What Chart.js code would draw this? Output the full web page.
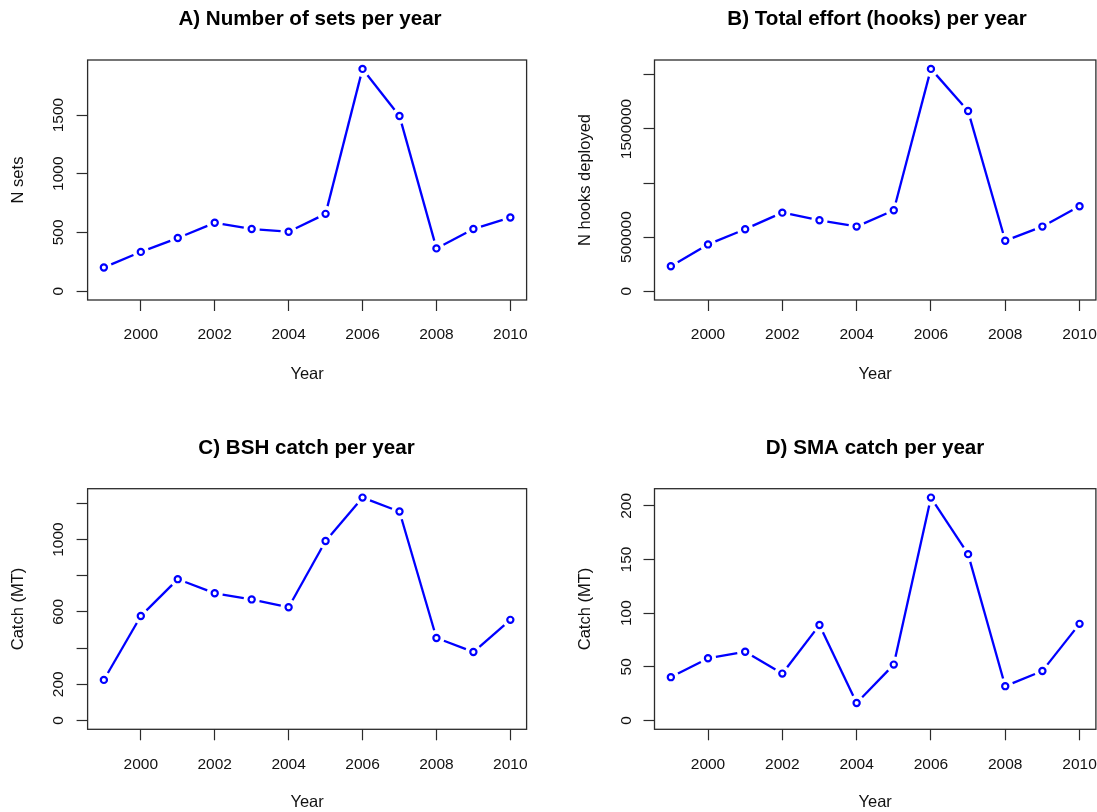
<!DOCTYPE html>
<html>
<head>
<meta charset="utf-8">
<script src="https://cdn.jsdelivr.net/npm/chart.js@4/dist/chart.umd.min.js"></script>
<style>
  html, body { margin: 0; padding: 0; background: #ffffff; overflow: hidden; width: 1097px; height: 812px; }
  #wrap { position: relative; width: 1097px; height: 812px; overflow: hidden; }
  #wrap canvas { position: absolute; }
</style>
</head>
<body>
<div id="wrap"></div>
<script>
// ---- data ----
const years = [1999, 2000, 2001, 2002, 2003, 2004, 2005, 2006, 2007, 2008, 2009, 2010];
const nSets = [201, 334, 452, 582, 529, 506, 658, 1893, 1492, 364, 529, 627];
const nHooks = [230000, 432000, 573000, 726000, 656000, 597000, 748000, 2056000, 1667000, 466000, 597000, 785000];
const bshCatch = [224, 577, 781, 703, 669, 626, 992, 1232, 1155, 456, 378, 556];
const smaCatch = [40.3, 57.9, 64.0, 43.6, 88.9, 16.2, 52.0, 207.7, 155.0, 31.9, 46.1, 90.0];

// ---- tick labels ----
const yearTicks = [2000, 2002, 2004, 2006, 2008, 2010];
const setsTicks = [0, 500, 1000, 1500];
const setsTickLabels = [0, 500, 1000, 1500];
const hooksTicks = [0, 500000, 1000000, 1500000, 2000000];
const hooksTickLabels = [0, 500000, 1500000];
const bshTicks = [0, 200, 400, 600, 800, 1000, 1200];
const bshTickLabels = [0, 200, 600, 1000];
const smaTicks = [0, 50, 100, 150, 200];
const smaTickLabels = [0, 50, 100, 150, 200];

// ---- styling ----
const FONT = '"Liberation Sans", Arial, Helvetica, sans-serif';
const TICK_PX = 15.5, LAB_PX = 16.5, MAIN_PX = 20.6;
const TICK_LEN = 11;
const BLUE = '#0000ff';
const PAPER = '#ffffff';
const NONE = 'rgba(0,0,0,0)';
const INK = '#111111';
const AXIS = '#2b2b2b';
const POINT_GAP = 8;   // px left open at both ends of every segment

// page-pixel placement of each panel (title is centred on its canvas)
const panels = [
  { title: 'A) Number of sets per year', yTitle: 'N sets', values: nSets, yTicks: setsTicks, yLabels: setsTickLabels,
    frame: { canvasLeft: 0, canvasTop: 0, titleX: 310, canvasH: 420,
             boxL: 87.6, boxT: 60, boxR: 526.6, boxB: 300,
             titleY: 19.7, yTitleX: 18.7, yTickX: 59, xTickY: 335, xTitleY: 374.2 } },
  { title: 'B) Total effort (hooks) per year', yTitle: 'N hooks deployed', values: nHooks, yTicks: hooksTicks, yLabels: hooksTickLabels,
    frame: { canvasLeft: 574, canvasTop: 0, titleX: 877, canvasH: 420,
             boxL: 654.5, boxT: 60, boxR: 1095.9, boxB: 300,
             titleY: 19.7, yTitleX: 585.8, yTickX: 627, xTickY: 335, xTitleY: 374.2 } },
  { title: 'C) BSH catch per year', yTitle: 'Catch (MT)', values: bshCatch, yTicks: bshTicks, yLabels: bshTickLabels,
    frame: { canvasLeft: 0, canvasTop: 406, titleX: 306.5, canvasH: 420,
             boxL: 87.6, boxT: 488.7, boxR: 526.6, boxB: 729.3,
             titleY: 448.8, yTitleX: 18.9, yTickX: 59, xTickY: 764.5, xTitleY: 802.5 } },
  { title: 'D) SMA catch per year', yTitle: 'Catch (MT)', values: smaCatch, yTicks: smaTicks, yLabels: smaTickLabels,
    frame: { canvasLeft: 574, canvasTop: 406, titleX: 875, canvasH: 420,
             boxL: 654.5, boxT: 488.7, boxR: 1095.9, boxB: 729.3,
             titleY: 448.8, yTitleX: 585.8, yTickX: 627, xTickY: 764.5, xTitleY: 802.5 } }
];

const measureCtx = document.createElement('canvas').getContext('2d');
function textWidth(s, px) {
  measureCtx.font = px + 'px ' + FONT;
  return measureCtx.measureText(s).width;
}

// pixel length of one segment of the line
function segLength(ctx) {
  return Math.hypot(ctx.p1.x - ctx.p0.x, ctx.p1.y - ctx.p0.y);
}

// closed frame around the plotting region
const frameBox = {
  id: 'frameBox',
  afterDraw(chart) {
    const { ctx, chartArea: a } = chart;
    ctx.save();
    ctx.strokeStyle = AXIS;
    ctx.lineWidth = 1.3;
    ctx.strokeRect(a.left, a.top, a.right - a.left, a.bottom - a.top);
    ctx.restore();
  }
};

const wrap = document.getElementById('wrap');

function buildPanel(p) {
  const f = p.frame;
  const canvasW = Math.round(2 * (f.titleX - f.canvasLeft));
  const cv = document.createElement('canvas');
  cv.width = canvasW; cv.height = f.canvasH;
  cv.style.left = f.canvasLeft + 'px';
  cv.style.top = f.canvasTop + 'px';
  cv.style.width = canvasW + 'px';
  cv.style.height = f.canvasH + 'px';
  wrap.appendChild(cv);

  const mainLH = MAIN_PX * 1.2, labLH = LAB_PX * 1.2, tickLH = TICK_PX * 1.2;
  const titleTop = f.titleY - f.canvasTop - mainLH / 2;
  const titleBottom = f.boxT - f.canvasTop - titleTop - mainLH;
  const yAxisW = f.boxL - f.canvasLeft;
  const xAxisH = f.canvasTop + f.canvasH - f.boxB;
  const rightW = f.canvasLeft + canvasW - f.boxR;
  const widest = Math.max(...p.yLabels.map(v => textWidth(String(v), TICK_PX)));
  const yTickPad = f.boxL - f.yTickX - TICK_LEN - widest / 2;
  const xTickPad = f.xTickY - f.boxB - TICK_LEN - tickLH / 2;
  const yTitlePad = f.yTitleX - f.canvasLeft - labLH / 2;
  const xTitlePad = f.canvasTop + f.canvasH - f.xTitleY - labLH / 2;

  // axis limits: zero to the series maximum, widened by 4% on each side
  const yHi = Math.max(...p.values);
  const xLo = years[0], xHi = years[years.length - 1];
  const xPad = 0.04 * (xHi - xLo);

  const toPts = () => years.map((x, i) => ({ x: x, y: p.values[i] }));

  const tickGrid = { display: true, drawOnChartArea: false, drawTicks: true,
                     tickLength: TICK_LEN, tickColor: AXIS, tickWidth: 1.2, color: AXIS };

  new Chart(cv, {
    type: 'line',
    data: {
      datasets: [
        // open circle markers only (no connecting line of their own)
        { data: toPts(), order: 0, showLine: false,
          borderColor: NONE, borderWidth: 0, backgroundColor: NONE,
          pointStyle: 'circle', pointRadius: 3.1, pointBorderWidth: 2.2,
          pointBorderColor: BLUE, pointBackgroundColor: PAPER },
        // connecting segments, each one stopping short of the markers at both ends
        { data: toPts(), order: 1, showLine: true,
          borderColor: BLUE, backgroundColor: NONE, borderWidth: 2.3, tension: 0, fill: false,
          pointRadius: 0, pointBorderWidth: 0,
          segment: {
            borderDash: ctx => {
              const len = segLength(ctx);
              return [Math.max(len - 2 * POINT_GAP, 0.01), 2 * POINT_GAP];
            },
            borderDashOffset: ctx => segLength(ctx) - POINT_GAP
          } }
      ]
    },
    options: {
      responsive: false,
      animation: false,
      devicePixelRatio: 1,
      events: [],
      layout: { padding: 0 },
      plugins: {
        legend: { display: false },
        tooltip: { enabled: false },
        title: {
          display: true, text: p.title, color: '#000000',
          font: { family: FONT, size: MAIN_PX, weight: 'bold', lineHeight: 1.2 },
          padding: { top: titleTop, bottom: titleBottom }
        }
      },
      scales: {
        x: {
          type: 'linear', position: 'bottom',
          min: xLo - xPad, max: xHi + xPad,
          afterBuildTicks: s => { s.ticks = yearTicks.map(v => ({ value: v })); },
          afterFit: s => { s.height = xAxisH; },
          grid: tickGrid,
          border: { display: false },
          ticks: { autoSkip: false, minRotation: 0, maxRotation: 0, padding: xTickPad, color: INK,
                   font: { family: FONT, size: TICK_PX, lineHeight: 1.2 },
                   callback: v => String(v) },
          title: { display: true, text: 'Year', color: INK,
                   font: { family: FONT, size: LAB_PX, lineHeight: 1.2 },
                   padding: { top: 0, bottom: xTitlePad } }
        },
        y: {
          type: 'linear', position: 'left',
          min: -0.04 * yHi, max: 1.04 * yHi,
          afterBuildTicks: s => { s.ticks = p.yTicks.map(v => ({ value: v })); },
          afterFit: s => { s.width = yAxisW; },
          grid: tickGrid,
          border: { display: false },
          ticks: { autoSkip: false, minRotation: 90, maxRotation: 90, crossAlign: 'center',
                   padding: yTickPad, color: INK,
                   font: { family: FONT, size: TICK_PX, lineHeight: 1.2 },
                   callback: v => (p.yLabels.includes(v) ? String(v) : '') },
          title: { display: true, text: p.yTitle, color: INK,
                   font: { family: FONT, size: LAB_PX, lineHeight: 1.2 },
                   padding: { top: yTitlePad, bottom: 0 } }
        },
        // empty right-hand margin so the main title spans the whole canvas
        rightMargin: {
          axis: 'y', type: 'linear', position: 'right', display: true,
          afterFit: s => { s.width = rightW; },
          grid: { display: false, drawTicks: false },
          border: { display: false },
          ticks: { display: false },
          title: { display: false }
        }
      }
    },
    plugins: [frameBox]
  });
}

panels.forEach(buildPanel);
</script>
</body>
</html>
